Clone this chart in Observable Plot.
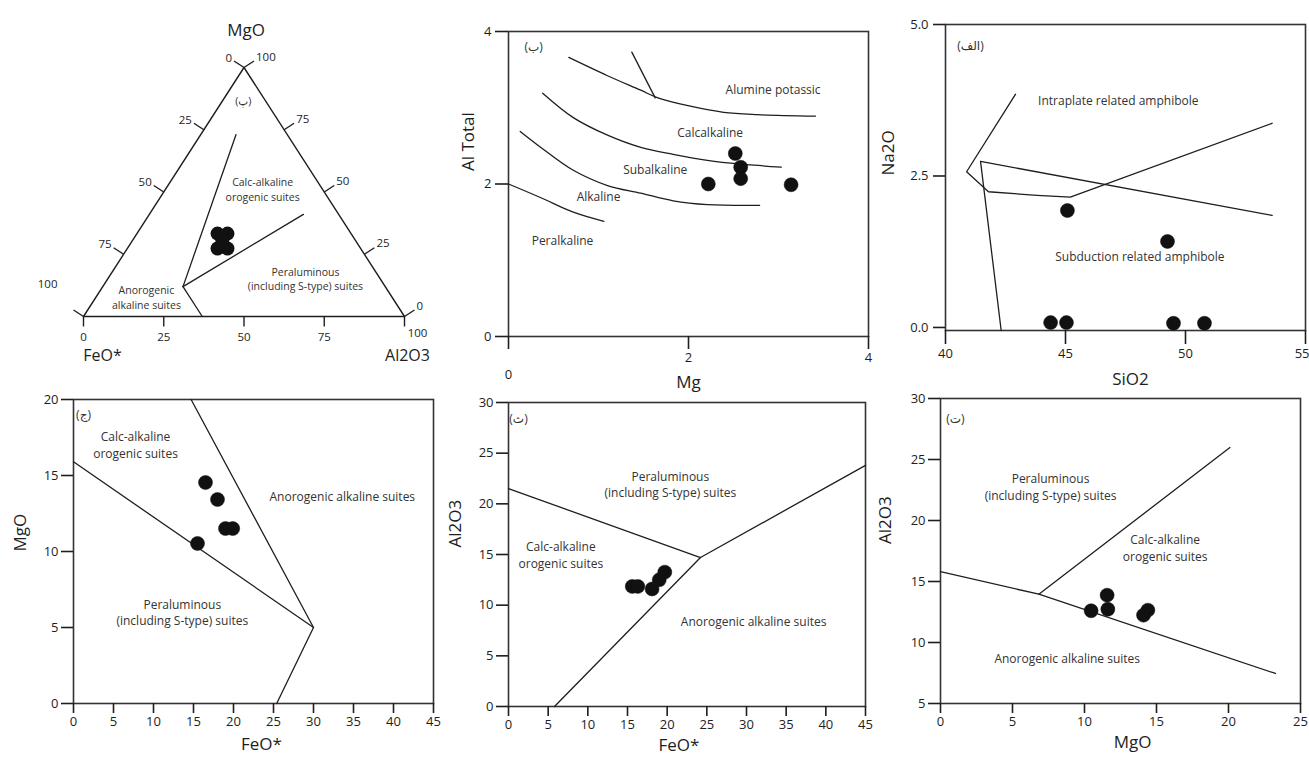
<!DOCTYPE html>
<html><head><meta charset="utf-8">
<script src="https://cdn.jsdelivr.net/npm/d3@7"></script>
<script src="https://cdn.jsdelivr.net/npm/@observablehq/plot@0.6"></script>
<style>
body{margin:0;background:#fff;}
#wrap{position:relative;width:1309px;height:760px;overflow:hidden;background:#fff;}
#wrap svg{position:absolute;}
</style></head><body><div id="wrap"></div>
<script>
// ================= DATA =================
// Panel (پ): ternary FeO* - MgO - Al2O3, compositions as [FeO*, MgO, Al2O3]
const ternTicks = [0, 25, 50, 75, 100];
const ternSampleFeO = [41.6, 38.5, 44.6, 41.5, 41.5];
const ternSampleMgO = [33.3, 33.3, 27.3, 27.3, 30.5];
const ternSampleAl2O3 = [25.1, 28.2, 28.1, 31.2, 28.0];
const ternOutline = [[100, 0, 0], [0, 100, 0], [0, 0, 100], [100, 0, 0]];
const ternCalcAlkLeft = [[16, 73, 11], [63, 12, 25]];
const ternPeralumUpper = [[63, 12, 25], [11, 41, 48]];
const ternAnorogenic = [[63, 12, 25], [63, 0, 37]];
const ternFieldNames = ["Calc-alkaline\norogenic suites", "Peraluminous\n(including S-type) suites", "Anorogenic\nalkaline suites", "(پ)"];
const ternFieldAt = [[18.6, 51.2, 30.2], [23.2, 15.3, 61.5], [76.4, 8.0, 15.6], [6.9, 86.7, 6.4]];

// Panel (ب): Al Total vs Mg
const mgTicks = [0, 2, 4];
const alTotTicks = [0, 2, 4];
const p2Peralkaline = [[0, 2.0], [0.36, 1.82], [0.72, 1.63], [1.06, 1.51]];
const p2AlkSub = [[0.13, 2.69], [0.36, 2.48], [0.72, 2.18], [1.1, 1.98], [1.47, 1.88], [1.83, 1.78], [2.21, 1.73], [2.79, 1.72]];
const p2SubCalc = [[0.38, 3.19], [0.72, 2.87], [1.1, 2.64], [1.47, 2.48], [1.83, 2.39], [2.21, 2.31], [2.58, 2.26], [3.03, 2.22]];
const p2CalcAlum = [[0.67, 3.66], [1.1, 3.42], [1.47, 3.23], [1.66, 3.13], [2.02, 3.02], [2.39, 2.94], [2.77, 2.91], [3.41, 2.89]];
const p2Short = [[1.37, 3.73], [1.63, 3.13]];
const p2Mg = [2.22, 2.52, 2.58, 2.58, 3.14];
const p2AlTotal = [2.0, 2.4, 2.22, 2.07, 1.99];
const p2FieldNames = ["Alumine potassic", "Calcalkaline", "Subalkaline", "Alkaline", "Peralkaline", "(ب)"];
const p2FieldAt = [[2.94, 3.25], [2.24, 2.69], [1.63, 2.2], [1.0, 1.85], [0.6, 1.27], [0.28, 3.82]];

// Panel (الف): Na2O vs SiO2
const sio2Ticks = [40, 45, 50, 55];
const na2oTicks = [0, 2.5, 5];
const p3Intraplate = [[42.92, 3.85], [40.88, 2.57], [41.79, 2.24], [43.82, 2.18], [45.2, 2.15], [53.61, 3.37]];
const p3Upper = [[41.46, 2.74], [53.61, 1.85]];
const p3Left = [[41.46, 2.74], [42.32, -0.05]];
const p3SiO2 = [44.38, 45.04, 45.08, 49.25, 49.5, 50.79];
const p3Na2O = [0.08, 0.08, 1.93, 1.42, 0.07, 0.07];
const p3FieldNames = ["Intraplate related amphibole", "Subduction related amphibole", "(الف)"];
const p3FieldAt = [[47.2, 3.76], [48.1, 1.19], [41.04, 4.67]];

// Panel (ج): MgO vs FeO*
const p4FeoTicks = [0, 5, 10, 15, 20, 25, 30, 35, 40, 45];
const p4MgoTicks = [0, 5, 10, 15, 20];
const p4LineA = [[0, 15.9], [30, 5]];
const p4LineB = [[14.7, 20], [30, 5], [25.4, 0]];
const p4FeO = [16.5, 18.0, 15.5, 19.0, 19.9];
const p4MgO = [14.54, 13.42, 10.53, 11.51, 11.51];
const p4FieldNames = ["Calc-alkaline\norogenic suites", "Anorogenic alkaline suites", "Peraluminous\n(including S-type) suites", "(ج)"];
const p4FieldAt = [[7.75, 17.04], [33.6, 13.7], [13.6, 6.05], [1.25, 19.08]];

// Panel (ث): Al2O3 vs FeO*
const p5FeoTicks = [0, 5, 10, 15, 20, 25, 30, 35, 40, 45];
const p5AlTicks = [0, 5, 10, 15, 20, 25, 30];
const p5LineA = [[0, 21.5], [24.2, 14.7], [45, 23.8]];
const p5LineB = [[5.8, 0], [24.2, 14.7]];
const p5FeO = [15.6, 16.3, 18.1, 19.0, 19.7];
const p5Al2O3 = [11.85, 11.85, 11.6, 12.5, 13.26];
const p5FieldNames = ["Peraluminous\n(including S-type) suites", "Calc-alkaline\norogenic suites", "Anorogenic alkaline suites", "(ث)"];
const p5FieldAt = [[20.4, 22.0], [6.6, 15.0], [30.9, 8.5], [1.26, 28.5]];

// Panel (ت): Al2O3 vs MgO
const p6MgoTicks = [0, 5, 10, 15, 20, 25];
const p6AlTicks = [5, 10, 15, 20, 25, 30];
const p6LineA = [[0, 15.8], [6.83, 13.96], [23.26, 7.46]];
const p6LineB = [[6.83, 13.96], [20.1, 25.98]];
const p6MgO = [10.46, 11.57, 11.62, 14.1, 14.4];
const p6Al2O3 = [12.6, 13.88, 12.73, 12.24, 12.65];
const p6FieldNames = ["Peraluminous\n(including S-type) suites", "Calc-alkaline\norogenic suites", "Anorogenic alkaline suites", "(ت)"];
const p6FieldAt = [[7.64, 22.8], [15.6, 17.8], [8.8, 8.77], [1.04, 28.4]];

// ================= RENDER =================
const FONT = "'Open Sans', 'DejaVu Sans', sans-serif";
const INK = "#1e1e1e";
const wrap = document.getElementById("wrap");
function place(svg, left, top) { svg.style.left = left + "px"; svg.style.top = top + "px"; wrap.appendChild(svg); }
const baseStyle = {fontFamily: FONT, fontSize: "13px", background: "transparent", overflow: "visible", color: INK};
const px = d => d[0], py = d => d[1];
const lineOpts = {x: px, y: py, stroke: INK, strokeWidth: 1.3};
const fieldText = (names, at, size = 11.5) => Plot.text(names, {x: (d, i) => at[i][0], y: (d, i) => at[i][1], text: d => d, fontSize: size, fill: "#333", lineHeight: 1.4});
const dots = (xs, ys) => Plot.dot(xs, {x: d => d, y: (d, i) => ys[i], r: 7, fill: "#111", stroke: "#111", strokeWidth: 0.5});
const fmtInt = d => String(d);
const ax = {fontSize: 13, label: null, tickSize: 0};
// explicit outward tick marks (pixel lengths), drawn from the frame edge
const ticksBottom = (ticks, size, fh) => Plot.tickX(ticks, {x: d => d, insetTop: fh, insetBottom: -size, stroke: INK, strokeWidth: 1.6});
const ticksLeft = (ticks, size, fw) => Plot.tickY(ticks, {y: d => d, insetLeft: -size, insetRight: fw, stroke: INK, strokeWidth: 1.6});

// ---- Ternary (پ) ----
{
  const UX = 321, VY = 249; // pixel extent of the unit triangle
  const toUV = ([f, m, a]) => { const s = f + m + a; return {u: (a + m / 2) / s, v: m / s}; };
  const left = ternTicks.map(t => ({...toUV([t, 100 - t, 0]), t, dx: -10, dy: -6.5}));
  const right = ternTicks.map(t => ({...toUV([0, t, 100 - t]), t, dx: 10, dy: -6.5}));
  const bottom = ternTicks.map(t => ({...toUV([100 - t, 0, t]), t, dx: 0, dy: 10}));
  const end = arr => arr.map(d => ({...d, u2: d.u + d.dx / UX, v2: d.v - d.dy / VY}));
  const L = end(left), R = end(right), B = end(bottom);
  const samples = ternSampleFeO.map((f, i) => toUV([f, ternSampleMgO[i], ternSampleAl2O3[i]]));
  const seg = s => s.map(toUV);
  const vtx = ternOutline.map(toUV);
  const lbl = d => String(d.t);
  const svg = Plot.plot({
    width: 440, height: 370, margin: 0,
    style: baseStyle,
    x: {domain: [0, 1], range: [83, 83 + UX], axis: null},
    y: {domain: [0, 1], range: [316, 316 - VY], axis: null},
    marks: [
      Plot.line(vtx, {x: "u", y: "v", stroke: INK, strokeWidth: 1.4}),
      Plot.line(seg(ternCalcAlkLeft), {x: "u", y: "v", stroke: INK, strokeWidth: 1.3}),
      Plot.line(seg(ternPeralumUpper), {x: "u", y: "v", stroke: INK, strokeWidth: 1.3}),
      Plot.line(seg(ternAnorogenic), {x: "u", y: "v", stroke: INK, strokeWidth: 1.3}),
      Plot.link([...L, ...R, ...B], {x1: "u", y1: "v", x2: "u2", y2: "v2", stroke: INK, strokeWidth: 1.4}),
      Plot.text(L.slice(0, -1), {x: "u2", y: "v2", text: lbl, textAnchor: "end", dx: -2, dy: -3, fontSize: 11.5}),
      Plot.text(L.slice(-1), {x: "u2", y: "v2", text: lbl, textAnchor: "end", dx: -16, dy: -26, fontSize: 11.5}),
      Plot.text(R, {x: "u2", y: "v2", text: lbl, textAnchor: "start", dx: 2, dy: -4, fontSize: 11.5}),
      Plot.text(B.slice(0, -1), {x: "u2", y: "v2", text: lbl, dy: 11, fontSize: 11.5}),
      Plot.text(B.slice(-1), {x: "u2", y: "v2", text: lbl, dx: 13, dy: 7, fontSize: 11.5}),
      Plot.text(["MgO"], {x: () => vtx[1].u, y: () => vtx[1].v, dx: 2, dy: -37, fontSize: 17}),
      Plot.text(["FeO*"], {x: () => vtx[0].u, y: () => vtx[0].v, dx: 19, dy: 39, fontSize: 16}),
      Plot.text(["Al2O3"], {x: () => vtx[2].u, y: () => vtx[2].v, dx: 3, dy: 39, fontSize: 16}),
      Plot.text(ternFieldNames, {x: (d, i) => toUV(ternFieldAt[i]).u, y: (d, i) => toUV(ternFieldAt[i]).v, text: d => d, fontSize: 10.5, fill: "#333", lineHeight: 1.4}),
      Plot.dot(samples, {x: "u", y: "v", r: 7, fill: "#111"})
    ]
  });
  place(svg, 0, 0);
}

// ---- (ب) Al Total vs Mg ----
{
  const fw = 440 - 68 - 12, fh = 400 - 31 - 64;
  const svg = Plot.plot({
    width: 440, height: 400, marginLeft: 68, marginRight: 12, marginTop: 31, marginBottom: 64,
    style: baseStyle,
    x: {domain: [0, 4], axis: null},
    y: {domain: [0, 4], axis: null},
    marks: [
      Plot.frame({stroke: "#333", strokeWidth: 1.6}),
      ticksLeft(alTotTicks, 13, fw),
      ticksBottom(mgTicks, 13, fh),
      Plot.axisY({...ax, ticks: alTotTicks, tickFormat: fmtInt, tickPadding: 17}),
      Plot.axisX({...ax, ticks: mgTicks.filter(t => t !== 0), tickFormat: fmtInt, tickPadding: 16}),
      Plot.axisX({...ax, ticks: mgTicks.filter(t => t === 0), tickFormat: fmtInt, tickPadding: 33}),
      Plot.text(["Al Total"], {frameAnchor: "left", dx: -40, dy: -13, rotate: -90, fontSize: 17}),
      Plot.text(["Mg"], {frameAnchor: "bottom", dy: 51, fontSize: 17}),
      Plot.line(p2Peralkaline, {...lineOpts, curve: "catmull-rom"}),
      Plot.line(p2AlkSub, {...lineOpts, curve: "catmull-rom"}),
      Plot.line(p2SubCalc, {...lineOpts, curve: "catmull-rom"}),
      Plot.line(p2CalcAlum, {...lineOpts, curve: "catmull-rom"}),
      Plot.line(p2Short, lineOpts),
      fieldText(p2FieldNames, p2FieldAt, 12),
      dots(p2Mg, p2AlTotal)
    ]
  });
  place(svg, 440, 0);
}

// ---- (الف) Na2O vs SiO2 ----
{
  const fw = 439 - 75 - 4, fh = 400 - 24 - 70;
  const svg = Plot.plot({
    width: 439, height: 400, marginLeft: 75, marginRight: 4, marginTop: 24, marginBottom: 70,
    style: baseStyle,
    x: {domain: [40, 55], axis: null},
    y: {domain: [-0.05, 5], axis: null},
    marks: [
      Plot.frame({stroke: "#333", strokeWidth: 1.6}),
      ticksLeft(na2oTicks, 12, fw),
      ticksBottom(sio2Ticks, 14, fh),
      Plot.axisY({...ax, ticks: na2oTicks, tickFormat: ".1f", tickPadding: 17}),
      Plot.axisX({...ax, ticks: sio2Ticks.slice(0, -1), tickFormat: fmtInt, tickPadding: 18}),
      Plot.text(sio2Ticks.slice(-1), {x: d => d, frameAnchor: "bottom", dy: 27, dx: 4, textAnchor: "end", text: fmtInt, fontSize: 13}),
      Plot.text(["Na2O"], {frameAnchor: "left", dx: -57, dy: -2, rotate: -90, fontSize: 17}),
      Plot.text(["SiO2"], {frameAnchor: "bottom", dx: 5, dy: 54, fontSize: 17}),
      Plot.line(p3Intraplate, lineOpts),
      Plot.line(p3Upper, lineOpts),
      Plot.line(p3Left, lineOpts),
      fieldText(p3FieldNames, p3FieldAt, 12),
      dots(p3SiO2, p3Na2O)
    ]
  });
  place(svg, 870, 0);
}

// ---- (ج) MgO vs FeO* ----
{
  const fw = 440 - 73 - 7, fh = 390 - 29 - 57;
  const svg = Plot.plot({
    width: 440, height: 390, marginLeft: 73, marginRight: 7, marginTop: 29, marginBottom: 57,
    style: baseStyle,
    x: {domain: [0, 45], axis: null},
    y: {domain: [0, 20], axis: null},
    marks: [
      Plot.frame({stroke: "#333", strokeWidth: 1.6}),
      ticksLeft(p4MgoTicks, 12, fw),
      ticksBottom(p4FeoTicks, 10, fh),
      Plot.axisY({...ax, ticks: p4MgoTicks, tickFormat: fmtInt, tickPadding: 15}),
      Plot.axisX({...ax, ticks: p4FeoTicks, tickFormat: fmtInt, tickPadding: 13}),
      Plot.text(["MgO"], {frameAnchor: "left", dx: -53, rotate: -90, fontSize: 17}),
      Plot.text(["FeO*"], {frameAnchor: "bottom", dx: 8, dy: 46, fontSize: 17}),
      Plot.line(p4LineA, lineOpts),
      Plot.line(p4LineB, lineOpts),
      fieldText(p4FieldNames, p4FieldAt, 12),
      dots(p4FeO, p4MgO)
    ]
  });
  place(svg, 0, 370);
}

// ---- (ث) Al2O3 vs FeO* ----
{
  const fw = 440 - 68 - 15, fh = 390 - 32 - 54;
  const svg = Plot.plot({
    width: 440, height: 390, marginLeft: 68, marginRight: 15, marginTop: 32, marginBottom: 54,
    style: baseStyle,
    x: {domain: [0, 45], axis: null},
    y: {domain: [0, 30], axis: null},
    marks: [
      Plot.frame({stroke: "#333", strokeWidth: 1.6}),
      ticksLeft(p5AlTicks, 12, fw),
      ticksBottom(p5FeoTicks, 10, fh),
      Plot.axisY({...ax, ticks: p5AlTicks, tickFormat: fmtInt, tickPadding: 15}),
      Plot.axisX({...ax, ticks: p5FeoTicks, tickFormat: fmtInt, tickPadding: 13}),
      Plot.text(["Al2O3"], {frameAnchor: "left", dx: -53, dy: -7, rotate: -90, fontSize: 17}),
      Plot.text(["FeO*"], {frameAnchor: "bottom", dx: -8, dy: 44, fontSize: 17}),
      Plot.line(p5LineA, lineOpts),
      Plot.line(p5LineB, lineOpts),
      fieldText(p5FieldNames, p5FieldAt, 12),
      dots(p5FeO, p5Al2O3)
    ]
  });
  place(svg, 440, 370);
}

// ---- (ت) Al2O3 vs MgO ----
{
  const fw = 439 - 70 - 9, fh = 390 - 28 - 57;
  const svg = Plot.plot({
    width: 439, height: 390, marginLeft: 70, marginRight: 9, marginTop: 28, marginBottom: 57,
    style: baseStyle,
    x: {domain: [0, 25], axis: null},
    y: {domain: [5, 30], axis: null},
    marks: [
      Plot.frame({stroke: "#333", strokeWidth: 1.6}),
      ticksLeft(p6AlTicks, 12, fw),
      ticksBottom(p6MgoTicks, 10, fh),
      Plot.axisY({...ax, ticks: p6AlTicks, tickFormat: fmtInt, tickPadding: 15}),
      Plot.axisX({...ax, ticks: p6MgoTicks, tickFormat: fmtInt, tickPadding: 13}),
      Plot.text(["Al2O3"], {frameAnchor: "left", dx: -55, dy: -7, rotate: -90, fontSize: 17}),
      Plot.text(["MgO"], {frameAnchor: "bottom", dx: 12, dy: 44, fontSize: 17}),
      Plot.line(p6LineA, lineOpts),
      Plot.line(p6LineB, lineOpts),
      fieldText(p6FieldNames, p6FieldAt, 12),
      dots(p6MgO, p6Al2O3)
    ]
  });
  place(svg, 870, 370);
}
</script></body></html>
